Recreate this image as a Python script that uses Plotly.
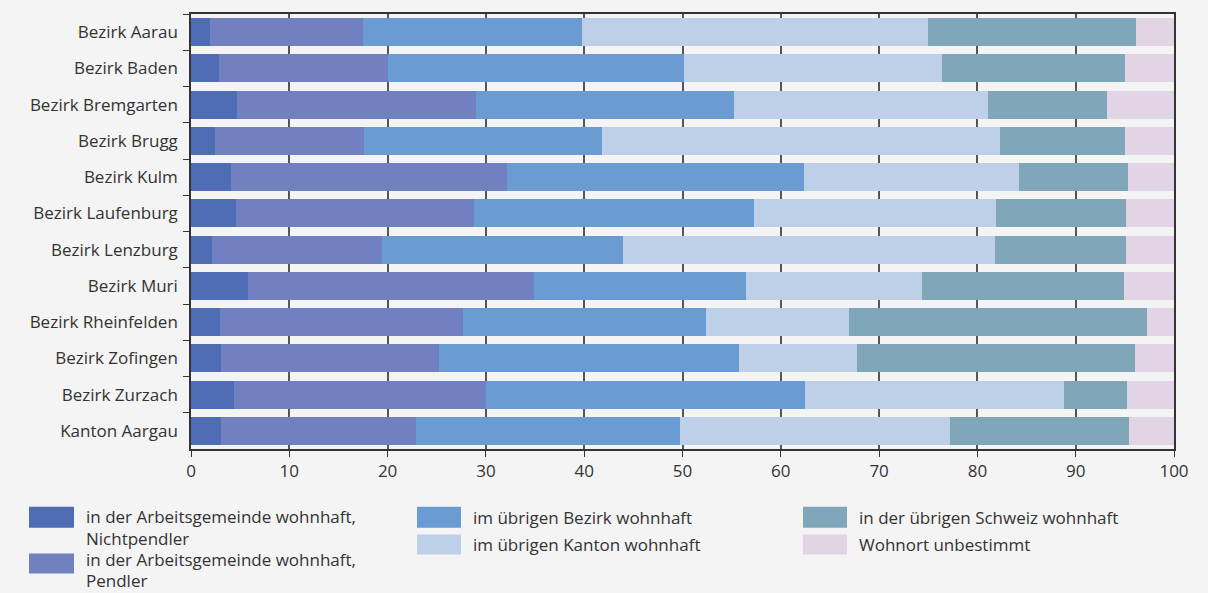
import plotly.graph_objects as go

categories = ["Bezirk Aarau", "Bezirk Baden", "Bezirk Bremgarten", "Bezirk Brugg",
              "Bezirk Kulm", "Bezirk Laufenburg", "Bezirk Lenzburg", "Bezirk Muri",
              "Bezirk Rheinfelden", "Bezirk Zofingen", "Bezirk Zurzach", "Kanton Aargau"]

series_names = ["in der Arbeitsgemeinde wohnhaft,<br>Nichtpendler",
                "in der Arbeitsgemeinde wohnhaft,<br>Pendler",
                "im übrigen Bezirk wohnhaft",
                "im übrigen Kanton wohnhaft",
                "in der übrigen Schweiz wohnhaft",
                "Wohnort unbestimmt"]

nichtpendler = [1.9, 2.8, 4.7, 2.4, 4.1, 4.6, 2.1, 5.8, 3.0, 3.1, 4.4, 3.1]
pendler      = [15.6, 17.2, 24.3, 15.2, 28.0, 24.2, 17.3, 29.1, 24.7, 22.1, 25.6, 19.8]
bezirk       = [22.3, 30.2, 26.2, 24.2, 30.3, 28.5, 24.5, 21.6, 24.7, 30.5, 32.5, 26.8]
kanton       = [35.2, 26.2, 25.9, 40.5, 21.8, 24.6, 37.9, 17.9, 14.5, 12.1, 26.3, 27.5]
schweiz      = [21.1, 18.6, 12.1, 12.7, 11.1, 13.2, 13.3, 20.5, 30.4, 28.2, 6.4, 18.2]
unbestimmt   = [3.9, 5.0, 6.8, 5.0, 4.7, 4.9, 4.9, 5.1, 2.7, 4.0, 4.8, 4.6]

x_ticks = [0, 10, 20, 30, 40, 50, 60, 70, 80, 90, 100]

colors = ["#4f6db5", "#7080c0", "#6a9bd2", "#bed0e8", "#80a6b9", "#e0d4e5"]
values = [nichtpendler, pendler, bezirk, kanton, schweiz, unbestimmt]

FONT = "Open Sans"
FS = 17
TEXT = "#333333"
W, H = 1208, 593
L, R, T, B = 191, 34, 12, 144
PW, PH = W - L - R, H - T - B

fig = go.Figure()
for name, vals, col in zip(series_names, values, colors):
    fig.add_trace(go.Bar(y=categories, x=vals, orientation="h", name=name,
                         marker=dict(color=col, line=dict(width=0)), showlegend=False))

def px_x(x):
    return (x - L) / PW

def px_y(y):
    return (H - B - y) / PH

# custom legend: (swatch x0, x1, y0, y1, text x, first line center y, line step)
legend_pos = [
    (29, 74, 507, 528, 84, 517, 21.5),
    (29, 74, 554, 574, 84, 560, 21.5),
    (417, 461, 507, 528, 471, 518, 21.5),
    (417, 461, 535, 555, 471, 545, 21.5),
    (803, 847, 507, 528, 857, 518, 21.5),
    (803, 847, 535, 555, 857, 545, 21.5),
]
shapes = []
annotations = []
for (x0, x1, y0, y1, tx, ty, step), name, col in zip(legend_pos, series_names, colors):
    shapes.append(dict(type="rect", xref="paper", yref="paper",
                       x0=px_x(x0), x1=px_x(x1), y0=px_y(y1), y1=px_y(y0),
                       fillcolor=col, line=dict(width=0)))
    for i, line in enumerate(name.split("<br>")):
        annotations.append(dict(xref="paper", yref="paper", x=px_x(tx), y=px_y(ty + step * i),
                                text=line, showarrow=False, xanchor="left", yanchor="middle",
                                font=dict(family=FONT, size=FS, color=TEXT)))

fig.update_layout(
    barmode="stack",
    bargap=0.23,
    width=W, height=H,
    margin=dict(l=L, r=R, t=T, b=B, pad=0),
    paper_bgcolor="#f4f4f4",
    plot_bgcolor="#f4f4f4",
    font=dict(family=FONT, size=FS, color=TEXT),
    shapes=shapes,
    annotations=annotations,
    showlegend=False,
)
fig.update_xaxes(range=[0, 100], tickvals=x_ticks, ticks="outside", ticklen=6,
                 tickcolor="#333333", showgrid=True, gridcolor="#555555", gridwidth=1.5,
                 showline=True, linecolor="#333333", linewidth=1.5, mirror=True,
                 zeroline=False, tickfont=dict(size=FS, color=TEXT))
fig.update_yaxes(categoryorder="array", categoryarray=categories, autorange="reversed",
                 ticks="outside", tickson="boundaries", ticklen=6, tickcolor="#333333",
                 showgrid=False, showline=True, linecolor="#333333", linewidth=1.5,
                 mirror=True, ticklabelstandoff=8, tickfont=dict(size=FS, color=TEXT))

fig.write_html("out.html",
               config={"displayModeBar": False},
               post_script="document.body.style.margin='0';"
                           "document.body.style.background='#f4f4f4';"
                           "document.body.style.overflow='hidden';")
